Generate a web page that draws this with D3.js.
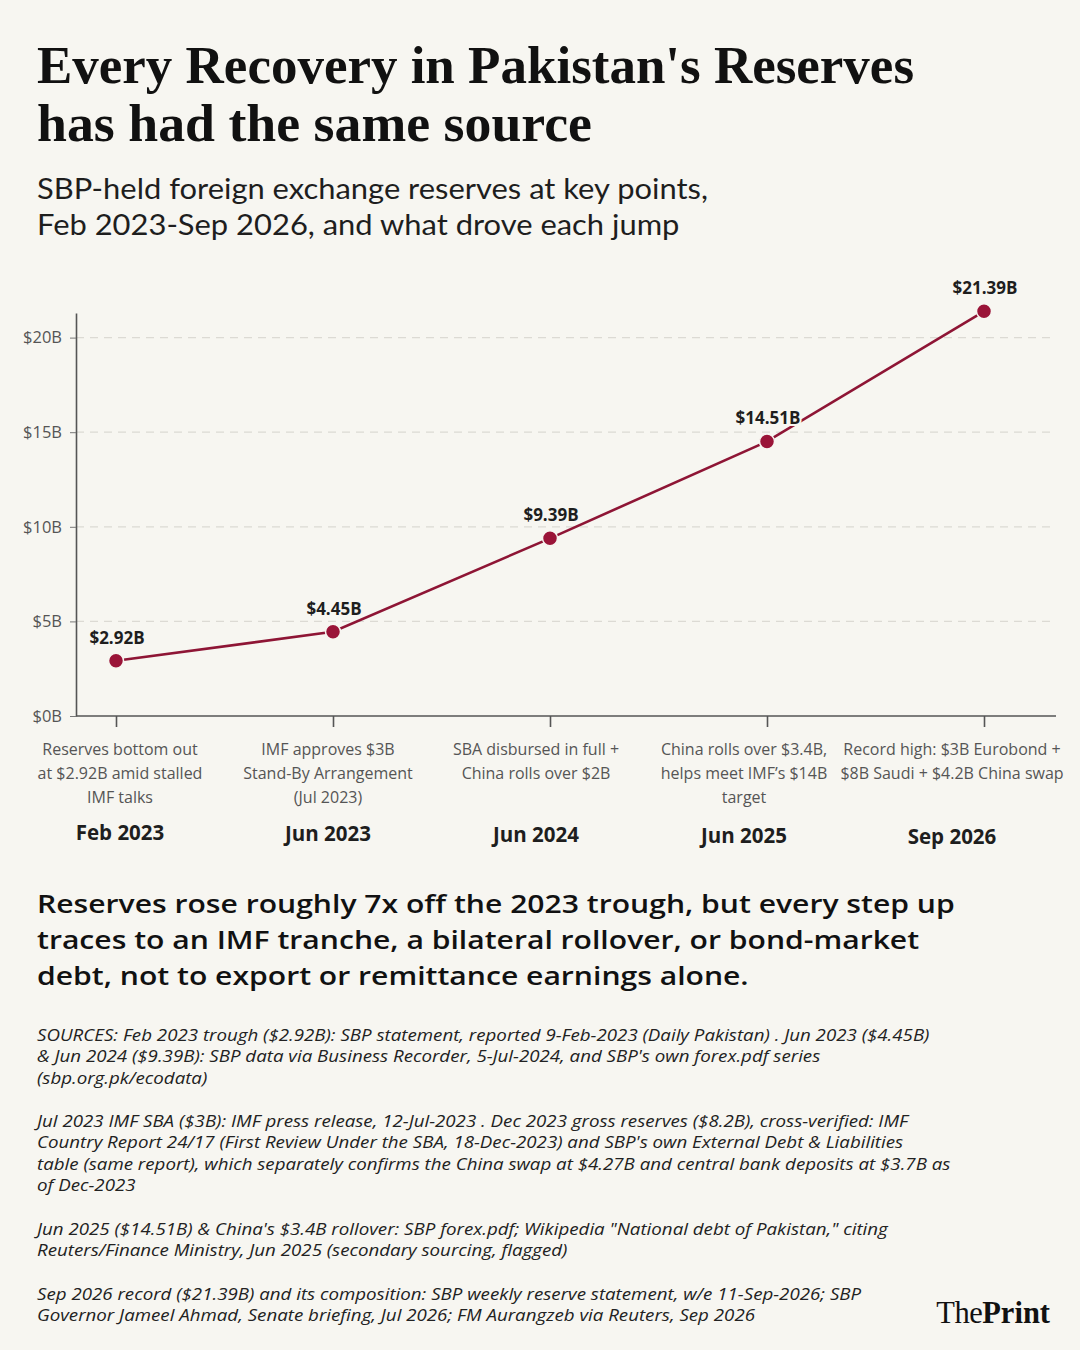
<!DOCTYPE html>
<html>
<head>
<meta charset="utf-8">
<script src="https://cdn.jsdelivr.net/npm/d3@7/dist/d3.min.js"></script>
<style>
  html, body { margin: 0; padding: 0; background: #f7f6f1; }
  svg { display: block; }
</style>
</head>
<body>
<svg width="1080" height="1350"></svg>
<script>
var periods = ["Feb 2023", "Jun 2023", "Jun 2024", "Jun 2025", "Sep 2026"];
var reserves = [2.92, 4.45, 9.39, 14.51, 21.39];
var valueLabels = ["$2.92B", "$4.45B", "$9.39B", "$14.51B", "$21.39B"];
var drivers = [
    ["Reserves bottom out", "at $2.92B amid stalled", "IMF talks"],
    ["IMF approves $3B", "Stand-By Arrangement", "(Jul 2023)"],
    ["SBA disbursed in full +", "China rolls over $2B"],
    ["China rolls over $3.4B,", "helps meet IMF\u2019s $14B", "target"],
    ["Record high: $3B Eurobond +", "$8B Saudi + $4.2B China swap"]
];
var yTicks = [0, 5, 10, 15, 20];

var titleLines = ["Every Recovery in Pakistan's Reserves", "has had the same source"];
var subtitleLines = ["SBP-held foreign exchange reserves at key points,", "Feb 2023-Sep 2026, and what drove each jump"];
var takeawayLines = [
    "Reserves rose roughly 7x off the 2023 trough, but every step up",
    "traces to an IMF tranche, a bilateral rollover, or bond-market",
    "debt, not to export or remittance earnings alone."
];
var sources = [
    ["SOURCES: Feb 2023 trough ($2.92B): SBP statement, reported 9-Feb-2023 (Daily Pakistan) . Jun 2023 ($4.45B)",
     "& Jun 2024 ($9.39B): SBP data via Business Recorder, 5-Jul-2024, and SBP's own forex.pdf series",
     "(sbp.org.pk/ecodata)"],
    ["Jul 2023 IMF SBA ($3B): IMF press release, 12-Jul-2023 . Dec 2023 gross reserves ($8.2B), cross-verified: IMF",
     "Country Report 24/17 (First Review Under the SBA, 18-Dec-2023) and SBP's own External Debt & Liabilities",
     "table (same report), which separately confirms the China swap at $4.27B and central bank deposits at $3.7B as",
     "of Dec-2023"],
    ["Jun 2025 ($14.51B) & China's $3.4B rollover: SBP forex.pdf; Wikipedia \"National debt of Pakistan,\" citing",
     "Reuters/Finance Ministry, Jun 2025 (secondary sourcing, flagged)"],
    ["Sep 2026 record ($21.39B) and its composition: SBP weekly reserve statement, w/e 11-Sep-2026; SBP",
     "Governor Jameel Ahmad, Senate briefing, Jul 2026; FM Aurangzeb via Reuters, Sep 2026"]
];

var bg = "#f7f6f1";
var crimson = "#8e1535";
var sans = "'Open Sans', 'Noto Sans', sans-serif";
var svg = d3.select("svg");

// the reference type is narrower & taller than what we have, so stretch a block
// horizontally until its first line spans the wanted width
var stretch = function(g, firstNode, x0, width) {
    var w = firstNode.getComputedTextLength();
    g.attr("transform", "translate(" + x0 + ",0) scale(" + (width / w) + ",1)");
};

svg.append("rect").attr("width", 1080).attr("height", 1350).attr("fill", bg);

// title + subtitle
svg.append("g").selectAll("text")
    .data(titleLines)
    .enter()
    .append("text")
    .attr("x", 37)
    .attr("y", function(d, i) { return 83 + i * 58; })
    .attr("textLength", function(d, i) { return i === 0 ? 877 : 555; })
    .attr("lengthAdjust", "spacingAndGlyphs")
    .style("font-family", "'Liberation Serif', 'DejaVu Serif', serif")
    .style("font-weight", "bold")
    .style("font-size", "52px")
    .style("fill", "#111")
    .text(function(d) { return d; });

var subG = svg.append("g");
var subtitle = subG.selectAll("text")
    .data(subtitleLines)
    .enter()
    .append("text")
    .attr("y", function(d, i) { return 199 + i * 36; })
    .style("font-family", "Lato, sans-serif")
    .style("font-size", "29px")
    .style("fill", "#1e1e1e")
    .text(function(d) { return d; });
stretch(subG, subtitle.node(), 37, 671);

// chart
var plotLeft = 76, plotRight = 1056;

var x = d3.scalePoint()
    .domain(periods)
    .range([116, 984]);

var xLabel = d3.scalePoint()
    .domain(periods)
    .range([120, 952]);

var y = d3.scaleLinear()
    .domain([0, 21.3])
    .range([716, 313]);

svg.append("g").selectAll("line")
    .data(yTicks.filter(function(d) { return d > 0; }))
    .enter()
    .append("line")
    .attr("x1", plotLeft)
    .attr("x2", plotRight)
    .attr("y1", function(d) { return y(d); })
    .attr("y2", function(d) { return y(d); })
    .style("stroke", "#dcdad4")
    .style("stroke-width", "1.2px")
    .style("stroke-dasharray", "8,6");

var yAxis = svg.append("g")
    .attr("transform", "translate(" + plotLeft + ",0)")
    .call(d3.axisLeft(y)
        .tickValues(yTicks)
        .tickSize(6)
        .tickSizeOuter(0)
        .tickPadding(8)
        .tickFormat(function(d) { return "$" + d + "B"; }));

yAxis.select(".domain").style("stroke", "#555").style("stroke-width", "1.6px");
yAxis.selectAll(".tick line").style("stroke", "#777");
yAxis.selectAll(".tick text")
    .style("font-family", sans)
    .style("font-size", "16.5px")
    .style("fill", "#555");

var xAxis = svg.append("g")
    .attr("transform", "translate(0," + y(0) + ")")
    .call(d3.axisBottom(x)
        .tickSize(11)
        .tickSizeOuter(0)
        .tickFormat(""));

xAxis.select(".domain").remove();
xAxis.selectAll(".tick line").style("stroke", "#555").style("stroke-width", "1.6px");
xAxis.append("line")
    .attr("x1", plotLeft)
    .attr("x2", plotRight)
    .style("stroke", "#555")
    .style("stroke-width", "1.6px");

var points = periods.map(function(p, i) {
    return {period: p, value: reserves[i], label: valueLabels[i]};
});

var line = d3.line()
    .x(function(d) { return x(d.period); })
    .y(function(d) { return y(d.value); });

svg.append("path")
    .datum(points)
    .attr("d", line)
    .style("fill", "none")
    .style("stroke", crimson)
    .style("stroke-width", "2.6px");

svg.append("g").selectAll("circle")
    .data(points)
    .enter()
    .append("circle")
    .attr("cx", function(d) { return x(d.period); })
    .attr("cy", function(d) { return y(d.value); })
    .attr("r", 7.5)
    .style("fill", "#9a1438")
    .style("stroke", bg)
    .style("stroke-width", "1.5px");

svg.append("g").selectAll("text")
    .data(points)
    .enter()
    .append("text")
    .attr("x", function(d) { return x(d.period) + 1; })
    .attr("y", function(d) { return y(d.value) - 17; })
    .attr("text-anchor", "middle")
    .style("font-family", sans)
    .style("font-weight", "bold")
    .style("font-size", "17px")
    .style("fill", "#1e1e1e")
    .style("stroke", bg)
    .style("stroke-width", "4px")
    .style("paint-order", "stroke")
    .text(function(d) { return d.label; });

// driver notes + period labels under the axis
var notes = svg.append("g").selectAll("g")
    .data(periods)
    .enter()
    .append("g")
    .attr("transform", function(d) { return "translate(" + xLabel(d) + ",0)"; });

notes.append("text")
    .attr("text-anchor", "middle")
    .style("font-family", sans)
    .style("font-size", "16px")
    .style("fill", "#555")
    .selectAll("tspan")
    .data(function(d, i) { return drivers[i]; })
    .enter()
    .append("tspan")
    .attr("x", 0)
    .attr("y", function(d, i) { return 755 + i * 24; })
    .text(function(d) { return d; });

notes.append("text")
    .attr("text-anchor", "middle")
    .attr("y", function(d, i) { return 840 + i; })
    .style("font-family", sans)
    .style("font-weight", "bold")
    .style("font-size", "20.5px")
    .style("fill", "#1e1e1e")
    .text(function(d) { return d; });

// takeaway
var takeG = svg.append("g");
var takeaway = takeG.selectAll("text")
    .data(takeawayLines)
    .enter()
    .append("text")
    .attr("y", function(d, i) { return 913 + i * 36; })
    .style("font-family", sans)
    .style("font-weight", "600")
    .style("font-size", "26px")
    .style("fill", "#111")
    .text(function(d) { return d; });
stretch(takeG, takeaway.node(), 37, 918);

// sources
var srcTop = [1041, 1127, 1235, 1300];
var srcG = svg.append("g");
var src = srcG.selectAll("text")
    .data(sources)
    .enter()
    .append("text")
    .style("font-family", sans)
    .style("font-style", "italic")
    .style("font-size", "15.5px")
    .style("fill", "#222");

src.selectAll("tspan")
    .data(function(d, i) { return d.map(function(t) { return {t: t, top: srcTop[i]}; }); })
    .enter()
    .append("tspan")
    .attr("x", 0)
    .attr("y", function(d, i) { return d.top + i * 21.5; })
    .text(function(d) { return d.t; });

stretch(srcG, src.select("tspan").node(), 37, 893);

// logo
var logo = svg.append("text")
    .attr("x", 1050)
    .attr("y", 1323)
    .attr("text-anchor", "end")
    .style("font-family", "'Liberation Serif', serif")
    .style("font-size", "30.5px")
    .style("fill", "#111");
logo.append("tspan").style("letter-spacing", "-0.5px").text("The");
logo.append("tspan").style("font-weight", "bold").text("Print");
</script>
</body>
</html>
